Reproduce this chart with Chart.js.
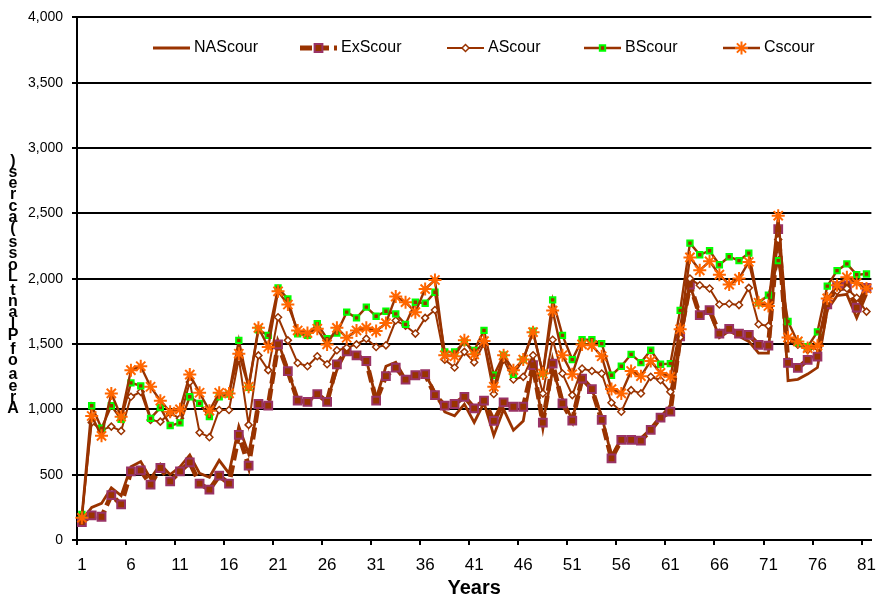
<!DOCTYPE html>
<html>
<head>
<meta charset="utf-8">
<title>Area of Plant Loss</title>
<script src="https://cdn.jsdelivr.net/npm/chart.js@4.4.1/dist/chart.umd.min.js"></script>
<style>
    html, body { margin: 0; padding: 0; background: #fff; }
    #wrap { width: 886px; height: 601px; }
</style>
</head>
<body>
<div id="wrap"><canvas id="scourChart" width="886" height="601"></canvas></div>
<script>

/* DATA */

const years = [
    1, 2, 3, 4, 5, 6, 7, 8, 9, 10, 11, 12, 13, 14, 15, 16, 17, 18, 19, 20,
    21, 22, 23, 24, 25, 26, 27, 28, 29, 30, 31, 32, 33, 34, 35, 36, 37, 38, 39, 40,
    41, 42, 43, 44, 45, 46, 47, 48, 49, 50, 51, 52, 53, 54, 55, 56, 57, 58, 59, 60,
    61, 62, 63, 64, 65, 66, 67, 68, 69, 70, 71, 72, 73, 74, 75, 76, 77, 78, 79, 80, 81
];

const naScour = [
    150, 250, 280, 400, 340, 560, 600, 470, 580, 500, 560, 650, 510, 480, 610, 510, 870, 660, 1030, 1020,
    1520, 1300, 1070, 1060, 1110, 1070, 1300, 1450, 1420, 1380, 1080, 1330, 1360, 1230, 1260, 1270, 1130, 980, 950, 1040,
    900, 1050, 800, 1000, 840, 910, 1330, 900, 1300, 1080, 920, 1230, 1150, 950, 640, 770, 780, 780, 850, 940,
    1030, 1500, 1950, 1720, 1750, 1550, 1600, 1560, 1520, 1430, 1430, 2450, 1220, 1230, 1270, 1320, 1760, 1870, 1880, 1700, 1880
];

const exScour = [
    137, 188, 178, 343, 272, 525, 533, 424, 551, 449, 525, 594, 431, 386, 492, 431, 805, 569, 1041, 1028,
    1497, 1292, 1066, 1058, 1117, 1058, 1345, 1444, 1413, 1370, 1066, 1254, 1320, 1228, 1261, 1269, 1109, 1028, 1041, 1096,
    1008, 1066, 911, 1053, 1020, 1020, 1338, 898, 1350, 1046, 914, 1236, 1155, 919, 624, 766, 766, 761, 843, 937,
    982, 1558, 1955, 1722, 1760, 1580, 1616, 1580, 1570, 1494, 1487, 2380, 1355, 1317, 1378, 1403, 1803, 1943, 1948, 1778, 1930
];

const aScour = [
    180, 900, 843, 868, 835, 1096, 1134, 919, 906, 970, 931, 1210, 822, 787, 995, 995, 1388, 881, 1413, 1300,
    1705, 1528, 1355, 1330, 1406, 1345, 1452, 1472, 1497, 1541, 1477, 1490, 1680, 1640, 1580, 1700, 1760, 1380, 1320, 1440,
    1360, 1503, 1117, 1381, 1228, 1249, 1414, 1122, 1533, 1274, 1109, 1312, 1294, 1274, 1051, 982, 1147, 1122, 1249, 1223,
    1134, 1550, 2001, 1950, 1925, 1803, 1808, 1798, 1930, 1651, 1639, 2300, 1525, 1494, 1454, 1474, 1829, 1905, 1925, 1854, 1748
];

const bScour = [
    195, 1028, 855, 1028, 924, 1203, 1180, 931, 1013, 876, 896, 1096, 1046, 944, 1096, 1117, 1528, 1168, 1609, 1566,
    1930, 1845, 1579, 1566, 1655, 1541, 1584, 1744, 1700, 1782, 1713, 1751, 1731, 1650, 1820, 1812, 1896, 1439, 1439, 1515,
    1450, 1604, 1261, 1414, 1269, 1381, 1599, 1274, 1838, 1566, 1381, 1533, 1533, 1503, 1261, 1330, 1421, 1358, 1452, 1345,
    1350, 1758, 2272, 2183, 2214, 2107, 2168, 2138, 2196, 1816, 1874, 2138, 1672, 1512, 1479, 1593, 1943, 2062, 2113, 2031, 2036
];

const cScour = [
    170, 949, 797, 1122, 944, 1300, 1330, 1173, 1066, 982, 1000, 1266, 1127, 990, 1127, 1122, 1426, 1173, 1624, 1477,
    1903, 1802, 1604, 1584, 1617, 1497, 1624, 1548, 1604, 1624, 1599, 1660, 1863, 1820, 1744, 1921, 1990, 1414, 1406, 1528,
    1421, 1523, 1173, 1414, 1300, 1381, 1591, 1274, 1756, 1414, 1269, 1497, 1490, 1406, 1155, 1122, 1294, 1254, 1371, 1279,
    1249, 1613, 2163, 2064, 2133, 2031, 1955, 2001, 2128, 1816, 1791, 2482, 1550, 1520, 1469, 1487, 1849, 1950, 2011, 1968, 1925
];

const yMax = 4000;
const yStep = 500;

/* STYLE */

const BROWN = "#993300";
const FONT = "'Liberation Sans', Arial, sans-serif";

/* stacked vertical title on the left */
const yTitlePlugin = {
    id: "stackedYTitle",
    afterDraw(chart) {
        const ctx = chart.ctx;
        const text = "Area of Plant Loss (acres)";
        ctx.save();
        ctx.font = "bold 16px " + FONT;
        ctx.fillStyle = "#000";
        ctx.textAlign = "center";
        ctx.textBaseline = "alphabetic";
        let y = 413;
        for (const ch of text) {
            if (ch === " ") { y -= 3; continue; }
            ctx.fillText(ch, 13, y);
            y -= 11.2;
        }
        ctx.restore();
    }
};

/* legend row drawn inside the plot */
const legendX = [153, 300, 447, 584, 723];

const legendPlugin = {
    id: "inlineLegend",
    afterDatasetsDraw(chart) {
        const ctx = chart.ctx;
        const y = 48;
        chart.data.datasets.forEach((ds, i) => {
            const x0 = legendX[i];
            ctx.save();
            ctx.strokeStyle = ds.borderColor;
            ctx.lineWidth = ds.borderWidth;
            ctx.setLineDash(ds.borderDash || []);
            ctx.beginPath();
            ctx.moveTo(x0, y);
            ctx.lineTo(x0 + 37, y);
            ctx.stroke();
            ctx.setLineDash([]);
            if (ds.pointRadius > 0) {
                ctx.strokeStyle = ds.pointBorderColor;
                ctx.fillStyle = ds.pointBackgroundColor;
                ctx.lineWidth = ds.pointBorderWidth;
                Chart.helpers.drawPoint(ctx, {
                    pointStyle: ds.pointStyle,
                    radius: ds.pointRadius,
                    borderWidth: ds.pointBorderWidth,
                    rotation: 0
                }, x0 + 18.5, y);
            }
            ctx.fillStyle = "#000";
            ctx.font = "16px " + FONT;
            ctx.textAlign = "left";
            ctx.textBaseline = "middle";
            ctx.fillText(ds.label, x0 + 41, y);
            ctx.restore();
        });
    }
};

/* CHART */

new Chart(document.getElementById("scourChart"), {
    type: "line",
    data: {
        labels: years,
        datasets: [
            {
                label: "NAScour",
                data: naScour,
                borderColor: BROWN,
                borderWidth: 2.8,
                pointRadius: 0,
                order: 5
            },
            {
                label: "ExScour",
                data: exScour,
                borderColor: BROWN,
                borderWidth: 4.8,
                borderDash: [12, 5],
                pointStyle: "rect",
                pointRadius: 5.5,
                pointBorderWidth: 2,
                pointBorderColor: "#993366",
                pointBackgroundColor: BROWN,
                order: 4
            },
            {
                label: "AScour",
                data: aScour,
                borderColor: BROWN,
                borderWidth: 2,
                pointStyle: "rectRot",
                pointRadius: 3.5,
                pointBorderWidth: 1.5,
                pointBorderColor: BROWN,
                pointBackgroundColor: "#fff",
                order: 3
            },
            {
                label: "BScour",
                data: bScour,
                borderColor: BROWN,
                borderWidth: 2.4,
                pointStyle: "rect",
                pointRadius: 3.8,
                pointBorderWidth: 2,
                pointBorderColor: "#00ff00",
                pointBackgroundColor: BROWN,
                order: 2
            },
            {
                label: "Cscour",
                data: cScour,
                borderColor: BROWN,
                borderWidth: 2.4,
                pointStyle: "star",
                pointRadius: 6.5,
                pointBorderWidth: 2,
                pointBorderColor: "#ff6600",
                pointBackgroundColor: "#ff6600",
                order: 1
            }
        ]
    },
    options: {
        responsive: false,
        animation: false,
        events: [],
        layout: { padding: { top: 15, right: 9, bottom: 0, left: 0 } },
        plugins: {
            legend: { display: false },
            tooltip: { enabled: false }
        },
        scales: {
            x: {
                type: "category",
                offset: true,
                afterFit: scale => { scale.height = 61; },
                border: { display: true, color: "#000", width: 2 },
                grid: {
                    offset: true,
                    drawOnChartArea: false,
                    tickLength: 5,
                    lineWidth: 2,
                    color: c => (c.index % 5 === 0 ? "#000" : "rgba(0,0,0,0)")
                },
                ticks: {
                    autoSkip: false,
                    maxRotation: 0,
                    padding: 10,
                    color: "#000",
                    font: { family: FONT, size: 17 },
                    callback: (v, i) => (i % 5 === 0 ? years[i] : "")
                },
                title: {
                    display: true,
                    text: "Years",
                    color: "#000",
                    font: { family: FONT, size: 20, weight: "bold" },
                    padding: { top: 0, bottom: 1 }
                }
            },
            y: {
                min: 0,
                max: yMax,
                afterFit: scale => { scale.width = 77; },
                border: { display: true, color: "#000", width: 2 },
                grid: { color: "#000", lineWidth: 2, tickLength: 5 },
                ticks: {
                    stepSize: yStep,
                    padding: 9,
                    color: "#000",
                    font: { family: FONT, size: 14 },
                    callback: v => v.toLocaleString("en-US")
                }
            }
        }
    },
    plugins: [legendPlugin, yTitlePlugin]
});

</script>
</body>
</html>
